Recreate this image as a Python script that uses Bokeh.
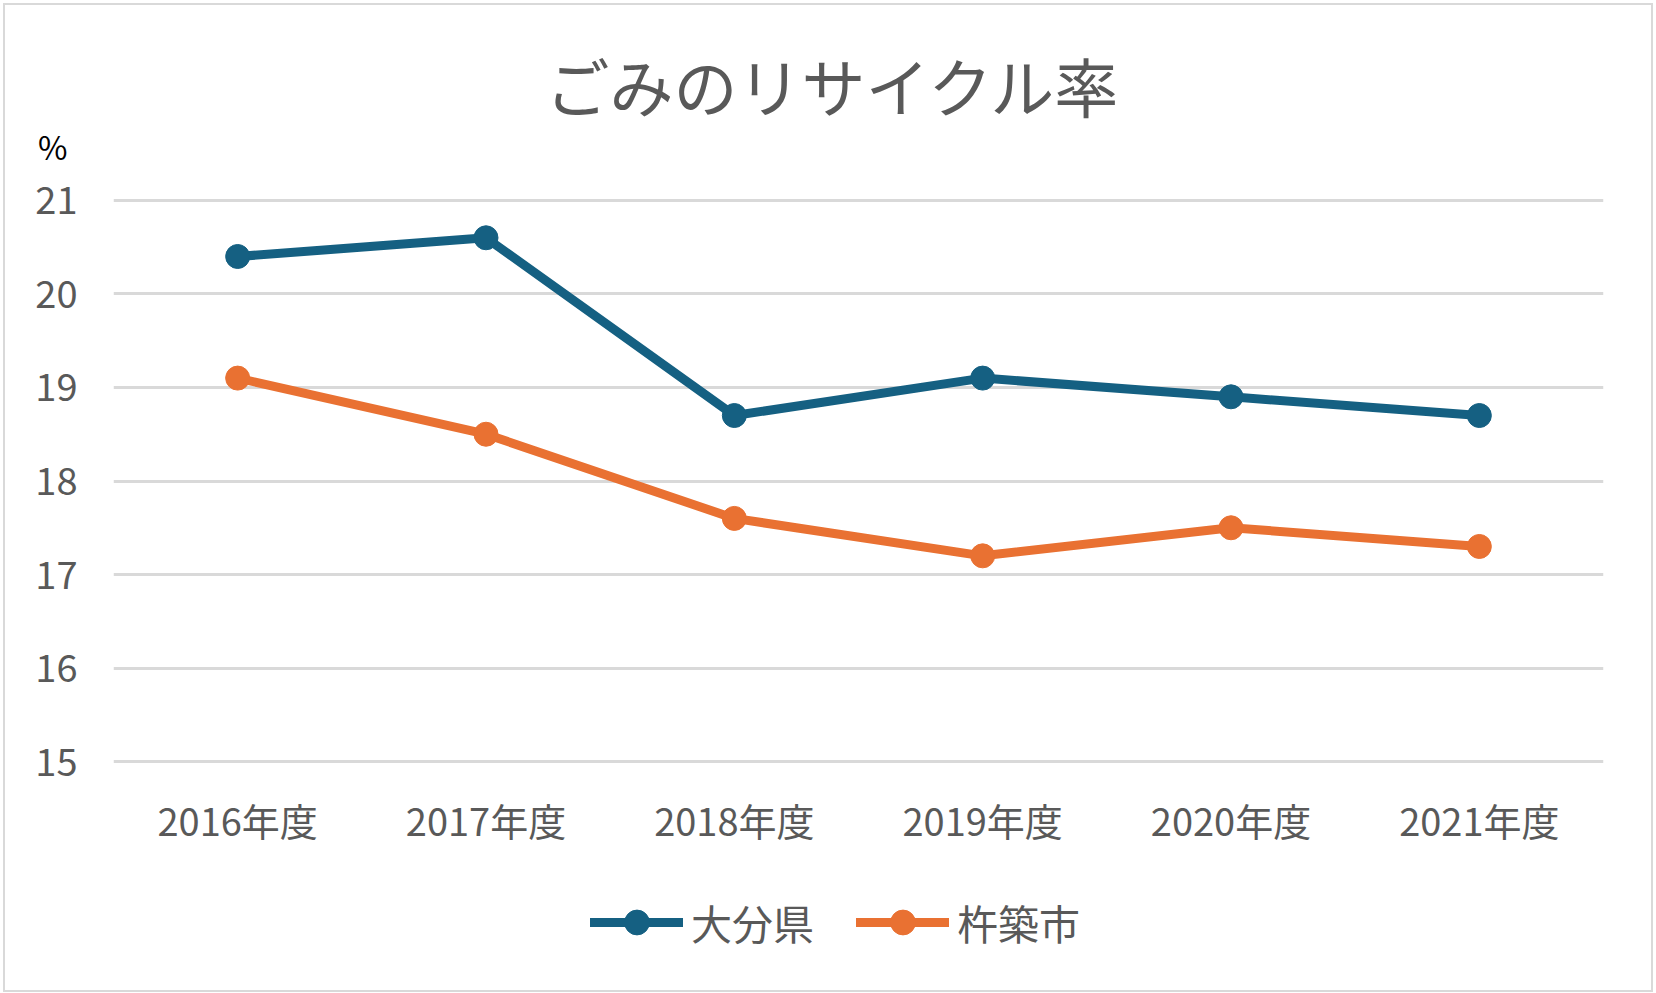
from bokeh.plotting import figure
from bokeh.layouts import column
from bokeh.models import Range1d, FactorRange, Legend, LegendItem, ColumnDataSource, Label
from bokeh.embed import file_html
from bokeh.resources import INLINE

years = ["2016年度", "2017年度", "2018年度", "2019年度", "2020年度", "2021年度"]
oita = [20.4, 20.6, 18.7, 19.1, 18.9, 18.7]
kitsuki = [19.1, 18.5, 17.6, 17.2, 17.5, 17.3]
series_names = ["大分県", "杵築市"]
y_ticks = [15, 16, 17, 18, 19, 20, 21]
title_text = "ごみのリサイクル率"
unit_text = "%"

FONT = "Noto Sans CJK JP"
TXT = "#595959"
colors = ["#156082", "#E97132"]
W = 1646
LEFT, RIGHT = 108, 48


def strip(height):
    f = figure(width=W, height=height, x_range=Range1d(LEFT, W - RIGHT), y_range=Range1d(height, 0),
               output_backend="svg", toolbar_location=None, x_axis_location=None,
               min_border_left=LEFT, min_border_right=RIGHT, min_border_top=0, min_border_bottom=0)
    f.grid.visible = False
    f.outline_line_color = None
    f.background_fill_color = "white"
    f.border_fill_color = "white"
    return f


# header: title + unit (unit drawn as the single tick label of a hidden axis)
top = strip(164)
top.yaxis.ticker = [140]
top.yaxis.major_label_overrides = {140: unit_text}
top.yaxis.axis_line_color = None
top.yaxis.major_tick_line_color = None
top.yaxis.minor_tick_line_color = None
top.yaxis.major_label_text_font = FONT
top.yaxis.major_label_text_font_size = "32px"
top.yaxis.major_label_text_color = "#000000"
top.yaxis.major_label_standoff = 40
top.add_layout(Label(x=828, y=78, text=title_text, text_font=FONT, text_font_size="64px",
                     text_color=TXT, text_align="center", text_baseline="middle"))

# main chart
p = figure(x_range=FactorRange(*years, range_padding=0), y_range=Range1d(14.98, 21.02),
           width=W, height=706, output_backend="svg", toolbar_location=None,
           min_border_left=LEFT, min_border_right=RIGHT, min_border_top=29, min_border_bottom=112)
p.outline_line_color = None
p.background_fill_color = "white"
p.border_fill_color = "white"

p.xgrid.grid_line_color = None
p.ygrid.grid_line_color = "#d9d9d9"
p.ygrid.grid_line_width = 3
p.yaxis.ticker = y_ticks
p.yaxis.axis_line_color = None
p.yaxis.major_tick_line_color = None
p.yaxis.minor_tick_line_color = None
p.yaxis.major_label_text_font = FONT
p.yaxis.major_label_text_font_size = "38px"
p.yaxis.major_label_text_color = TXT
p.yaxis.major_label_standoff = 30

p.xaxis.axis_line_color = None
p.xaxis.major_tick_line_color = None
p.xaxis.major_label_text_font = FONT
p.xaxis.major_label_text_font_size = "38px"
p.xaxis.major_label_text_color = TXT
p.xaxis.major_label_standoff = 22

for vals, c in zip([oita, kitsuki], colors):
    src = ColumnDataSource(dict(x=years, y=vals))
    p.line("x", "y", source=src, line_color=c, line_width=9, line_cap="round")
    p.scatter("x", "y", source=src, size=24, fill_color=c, line_color=c)

# legend strip (helper renderers sit outside the visible range; only their legend swatches show)
leg = strip(115)
leg.yaxis.visible = False
items = []
for name, c in zip(series_names, colors):
    l = leg.line(x=[-5000, -4000], y=[-5000, -5000], line_color=c, line_width=9, line_cap="round")
    s = leg.scatter(x=[-5000], y=[-5000], size=24, fill_color=c, line_color=c)
    items.append(LegendItem(label=name, renderers=[l, s]))
legend = Legend(items=items, orientation="horizontal", location=(477, 37),
                label_text_font=FONT, label_text_font_size="41px", label_text_color=TXT,
                glyph_width=93, glyph_height=62, spacing=42, label_standoff=8,
                border_line_color=None, background_fill_alpha=0, margin=0, padding=5)
leg.add_layout(legend, "center")

layout = column(top, p, leg, spacing=0,
                styles={"border": "2px solid #d9d9d9", "margin": "3px 3px 0px 3px"})

open("out.html", "w").write(file_html(layout, INLINE))
